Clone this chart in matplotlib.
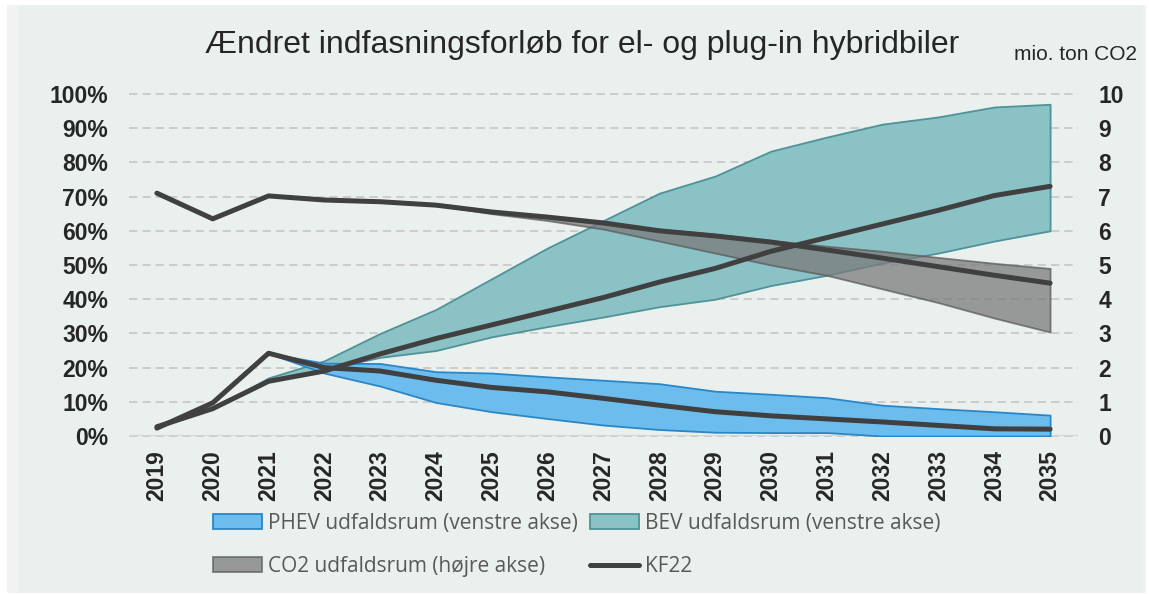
import numpy as np
import matplotlib
matplotlib.use("Agg")
import matplotlib.pyplot as plt
from matplotlib.patches import Rectangle

# data
years = list(range(2019, 2036))

# PHEV / BEV shares in percent (left axis)
phev_kf22 = [2.3, 9.7, 24.2, 20.0, 19.0, 16.3, 14.2, 12.9, 11.0, 9.0, 7.1, 5.9, 5.0, 4.1, 3.1, 2.1, 2.0]
phev_high = [2.3, 9.7, 24.2, 21.3, 21.2, 18.8, 18.4, 17.3, 16.3, 15.3, 13.1, 12.2, 11.2, 9.0, 8.0, 7.1, 6.1]
phev_low = [2.3, 9.7, 24.2, 18.4, 14.6, 9.8, 7.1, 5.1, 3.2, 1.9, 1.1, 1.0, 1.0, 0.0, 0.0, 0.0, 0.0]

bev_kf22 = [2.7, 8.0, 16.0, 19.0, 24.0, 28.5, 32.5, 36.5, 40.5, 45.0, 49.0, 54.0, 58.0, 62.0, 66.0, 70.3, 73.0]
bev_high = [2.7, 8.0, 17.0, 22.0, 30.0, 37.0, 46.0, 55.0, 63.0, 71.0, 76.0, 83.3, 87.4, 91.2, 93.3, 96.2, 97.0]
bev_low = [2.7, 8.0, 16.0, 19.5, 23.0, 25.0, 29.0, 32.0, 34.8, 37.8, 40.0, 44.0, 47.0, 50.6, 53.5, 57.0, 60.0]

# CO2 in mio. ton (right axis)
co2_kf22 = [7.1, 6.35, 7.02, 6.9, 6.85, 6.75, 6.55, 6.4, 6.23, 6.0, 5.85, 5.67, 5.44, 5.2, 4.95, 4.7, 4.47]
co2_high = [7.1, 6.35, 7.02, 6.9, 6.85, 6.75, 6.55, 6.4, 6.2, 6.05, 5.9, 5.72, 5.55, 5.4, 5.22, 5.05, 4.9]
co2_low = [7.1, 6.35, 7.02, 6.9, 6.85, 6.75, 6.5, 6.3, 6.05, 5.7, 5.35, 5.0, 4.7, 4.3, 3.9, 3.45, 3.04]

left_ticks = list(range(0, 101, 10))
right_ticks = list(range(0, 11))

title = "Ændret indfasningsforløb for el- og plug-in hybridbiler"
unit_label = "mio. ton CO2"
legend_labels = ["PHEV udfaldsrum (venstre akse)", "CO2 udfaldsrum (højre akse)",
                 "BEV udfaldsrum (venstre akse)", "KF22"]

W, H = 1149, 594
BG = "#EAF0EE"
TXT = "#262626"
KF = "#404040"

plt.rcParams["font.family"] = ["Liberation Sans", "DejaVu Sans"]

fig = plt.figure(figsize=(W / 100, H / 100), dpi=100)
fig.patch.set_facecolor("white")
fig.patches.append(Rectangle((7 / W, 1 - 593 / H), (1146 - 7) / W, (593 - 5) / H,
                             transform=fig.transFigure, facecolor="#F1F3F2", edgecolor="none", zorder=-20))
fig.patches.append(Rectangle((19 / W, 1 - 593 / H), (1143 - 19) / W, (593 - 5) / H,
                             transform=fig.transFigure, facecolor=BG, edgecolor="none", zorder=-19))

ax = fig.add_axes([129 / W, 1 - 436 / H, (1078 - 129) / W, (436 - 94) / H])
ax.set_facecolor("none")
ax2 = ax.twinx()

x = np.arange(len(years))
ax.set_xlim(-0.5, len(years) - 0.5)
ax.set_ylim(0, 100)
ax2.set_ylim(0, 10)

# bands
bev_poly = ax.fill_between(x, bev_low, bev_high, facecolor="#8AC2C6", edgecolor="#4F9298", lw=1.3, zorder=2)
phev_poly = ax.fill_between(x, phev_low, phev_high, facecolor="#6CBDED", edgecolor="#2B86C6", lw=1.3, zorder=3)
co2_poly = ax2.fill_between(x, co2_low, co2_high, facecolor="#7B7B7B", edgecolor="#5A5A5A",
                            lw=1.3, alpha=0.75, zorder=2)

# KF22 lines, all on top
kf_line, = ax2.plot(x, co2_kf22, color=KF, lw=3.6, solid_capstyle="round", solid_joinstyle="round", zorder=5)
ax2.plot(x, bev_kf22, color=KF, lw=3.6, solid_capstyle="round", solid_joinstyle="round",
         transform=ax.transData, zorder=5)
ax2.plot(x, phev_kf22, color=KF, lw=3.6, solid_capstyle="round", solid_joinstyle="round",
         transform=ax.transData, zorder=5)

# grid
ax.set_yticks(left_ticks, [f"{t}%" for t in left_ticks])
ax.yaxis.grid(True, linestyle=(0, (4.6, 2.8)), color="#C9C9C9", lw=1.3)
ax.set_axisbelow(True)
for gl in ax.get_ygridlines():
    gl.set_clip_on(False)
ax.axhline(0, color="#D6D6D6", lw=1.6, zorder=1)

ax.set_xticks(x, [str(y) for y in years], rotation=90)
ax2.set_yticks(right_ticks, [str(t) for t in right_ticks])

for a in (ax, ax2):
    for s in a.spines.values():
        s.set_visible(False)
ax.tick_params(axis="y", length=0, pad=15, labelsize=16.5, labelcolor=TXT)
ax.tick_params(axis="x", length=0, pad=10, labelsize=16.5, labelcolor=TXT)
ax2.tick_params(axis="y", length=0, pad=14.5, labelsize=16.5, labelcolor=TXT)
for lab in ax.get_xticklabels() + ax.get_yticklabels() + ax2.get_yticklabels():
    lab.set_fontweight("bold")

fig.text(582 / W, 1 - 45 / H, title, ha="center", va="center", fontsize=23, color=TXT)
fig.text(1137 / W, 1 - 55 / H, unit_label, ha="right", va="center", fontsize=15, color=TXT)

leg = fig.legend([phev_poly, co2_poly, bev_poly, kf_line], legend_labels, ncol=2,
                 loc="upper left", bbox_to_anchor=(213 / W, 1 - 513 / H), frameon=False,
                 prop={"family": ["Open Sans", "DejaVu Sans"], "size": 15},
                 labelcolor="#595959", handlelength=2.35, handleheight=0.7, handletextpad=0.3,
                 columnspacing=0.55, labelspacing=1.05, borderaxespad=0, borderpad=0)

fig.savefig("out.png", dpi=100, facecolor=fig.get_facecolor())
